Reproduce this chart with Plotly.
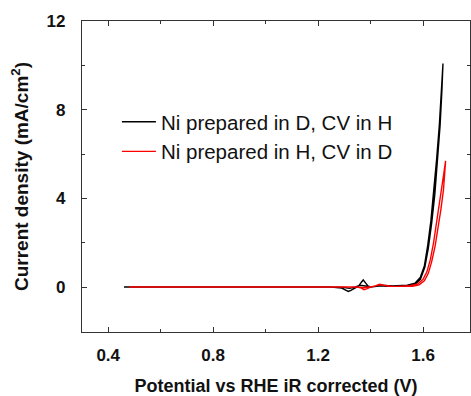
import plotly.graph_objects as go

# Black: Ni prepared in D, CV in H  (forward then reverse scan)
black_fwd_v = [0.46, 0.70, 1.00, 1.25, 1.29, 1.305, 1.315, 1.325, 1.34, 1.355, 1.365, 1.372, 1.38, 1.39, 1.40, 1.42, 1.44, 1.46, 1.50, 1.54, 1.57, 1.59, 1.605, 1.618, 1.63, 1.642, 1.652, 1.662, 1.670, 1.676]
black_fwd_j = [0.00, 0.00, 0.00, 0.00, -0.05, -0.15, -0.20, -0.15, -0.05, 0.05, 0.22, 0.32, 0.20, 0.05, 0.00, 0.03, 0.06, 0.04, 0.05, 0.08, 0.18, 0.45, 0.95, 1.9, 3.0, 4.4, 5.8, 7.3, 8.7, 10.1]
black_rev_v = [1.676, 1.672, 1.665, 1.655, 1.645, 1.633, 1.620, 1.607, 1.59, 1.57, 1.54, 1.50, 1.46, 1.44, 1.42, 1.40, 1.38, 1.36, 1.34, 1.32, 1.30, 1.25, 1.00, 0.70, 0.46]
black_rev_j = [10.1, 8.9, 7.3, 5.6, 4.2, 2.9, 1.75, 0.9, 0.35, 0.12, 0.06, 0.04, 0.06, 0.08, 0.03, 0.00, 0.05, 0.08, 0.00, -0.06, -0.02, 0.00, 0.00, 0.00, 0.00]

# Red: Ni prepared in H, CV in D
red_fwd_v = [0.48, 0.70, 1.00, 1.30, 1.35, 1.365, 1.375, 1.385, 1.40, 1.42, 1.435, 1.45, 1.47, 1.50, 1.55, 1.58, 1.60, 1.615, 1.628, 1.640, 1.652, 1.662, 1.672, 1.680, 1.686]
red_fwd_j = [0.00, 0.00, 0.00, 0.00, 0.00, -0.05, -0.12, -0.08, 0.00, 0.06, 0.13, 0.08, 0.03, 0.03, 0.06, 0.14, 0.35, 0.70, 1.25, 2.0, 2.9, 3.7, 4.5, 5.2, 5.7]
red_rev_v = [1.686, 1.684, 1.678, 1.668, 1.658, 1.646, 1.633, 1.620, 1.605, 1.585, 1.56, 1.52, 1.48, 1.45, 1.43, 1.41, 1.39, 1.37, 1.35, 1.30, 1.00, 0.70, 0.48]
red_rev_j = [5.7, 5.2, 4.4, 3.5, 2.7, 1.85, 1.15, 0.62, 0.28, 0.10, 0.04, 0.03, 0.03, 0.08, 0.10, 0.03, 0.00, -0.03, 0.00, 0.00, 0.00, 0.00, 0.00]

series_names = ["Ni prepared in D, CV in H", "Ni prepared in H, CV in D"]
series_colors = ["#000000", "#ff0000"]

x_ticks = [0.4, 0.8, 1.2, 1.6]
y_ticks = [0, 4, 8, 12]

FONT = "Liberation Sans, Arial, sans-serif"

fig = go.Figure()
fig.add_trace(go.Scatter(
    x=black_fwd_v + black_rev_v, y=black_fwd_j + black_rev_j,
    mode="lines", name=series_names[0], legendgroup="a",
    line=dict(color=series_colors[0], width=1.4),
))
fig.add_trace(go.Scatter(
    x=red_fwd_v + red_rev_v, y=red_fwd_j + red_rev_j,
    mode="lines", name=series_names[1], legendgroup="b",
    line=dict(color=series_colors[1], width=1.4),
))

axis_common = dict(
    showline=True, linecolor="#333333", linewidth=1.3, mirror="allticks",
    ticks="inside", ticklen=5, tickwidth=1.2, tickcolor="#333333",
    showgrid=False, zeroline=False,
    tickfont=dict(family=FONT, size=17, color="#111111", weight="bold"),
)

fig.update_xaxes(
    range=[0.3, 1.779], tickvals=x_ticks, ticktext=[f"{v:.1f}" for v in x_ticks],
    minor=dict(dtick=0.2, tick0=0.0, ticks="inside", ticklen=3, tickcolor="#333333", showgrid=False),
    ticklabelstandoff=7,
    title=dict(text="Potential vs RHE iR corrected (V)", standoff=19,
               font=dict(family=FONT, size=18, color="#111111", weight="bold")),
    **axis_common,
)
fig.update_yaxes(
    range=[-2.03, 12.02], tickvals=y_ticks, ticktext=[str(v) for v in y_ticks],
    minor=dict(dtick=2, tick0=0, ticks="inside", ticklen=3, tickcolor="#333333", showgrid=False),
    ticklabelstandoff=12,
    title=dict(text="Current density (mA/cm<sup>2</sup>)", standoff=12,
               font=dict(family=FONT, size=19, color="#111111", weight="bold")),
    **axis_common,
)

fig.update_layout(
    width=471, height=396,
    margin=dict(l=82, r=1, t=21, b=64),
    paper_bgcolor="white", plot_bgcolor="white",
    showlegend=True,
    legend=dict(
        x=0.09, y=0.74, xanchor="left", yanchor="top",
        bgcolor="rgba(0,0,0,0)", borderwidth=0,
        font=dict(family=FONT, size=20.5, color="#111111"),
        tracegroupgap=0, traceorder="grouped", itemwidth=34,
    ),
)

fig.write_html("out.html")
